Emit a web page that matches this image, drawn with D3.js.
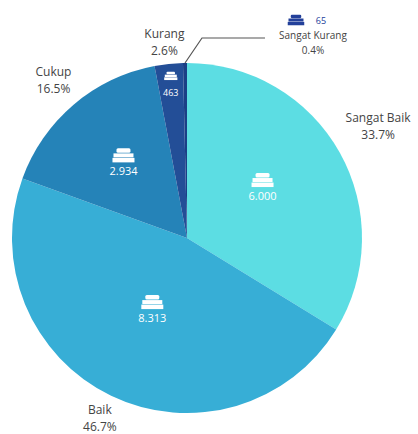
<!DOCTYPE html>
<html><head><meta charset="utf-8">
<script src="https://cdn.jsdelivr.net/npm/d3@7"></script>
<style>html,body{margin:0;background:#fff}svg{display:block}text{font-family:"Open Sans","Liberation Sans",sans-serif}</style>
</head><body><svg id="c" width="418" height="434"></svg>
<script>
const categories = ["Sangat Baik","Baik","Cukup","Kurang","Sangat Kurang"];
const counts = [6000,8313,2934,463,65];
const countLabels = ["6.000","8.313","2.934","463","65"];
const percentLabels = ["33.7%","46.7%","16.5%","2.6%","0.4%"];
const colors = ["#5CDDE3","#37AED6","#2583B8","#234E97","#1B3F86"];
// layout: radius of the outer and inner labels per slice, plus fine offsets
const outerR = [219,201,206,197,null];
const innerR = [90,80,98,155,null];
const outerOff = [[0,-6],[0,-2],[0,-2],[-2,-1],null];
const innerOff = [[-3,-6],[0,0],[0,0],[0,0],null];

const svg = d3.select("#c");
const g = svg.append("g").attr("transform","translate(187,238)");
const R = 175;
const pie = d3.pie().sort(null).startAngle(0).endAngle(2*Math.PI).value(d=>d);
const arcs = pie(counts);
const arc = d3.arc().innerRadius(0).outerRadius(R);
g.selectAll("path.s").data(arcs).join("path").attr("class","s").attr("d",arc)
  .attr("fill",(d,i)=>colors[i]);

function icon(sel,x,y,fill,k){
  const n = sel.append("g").attr("transform",`translate(${x},${y}) scale(${k})`).attr("fill",fill);
  n.append("rect").attr("x",-7).attr("y",-7).attr("width",14).attr("height",4.5).attr("rx",1.5);
  n.append("rect").attr("x",-10).attr("y",-2).attr("width",20).attr("height",4);
  n.append("rect").attr("x",-11).attr("y",2.5).attr("width",22).attr("height",4.5);
}
const pt = (d,r)=>{const a=(d.startAngle+d.endAngle)/2;return [r*Math.sin(a),-r*Math.cos(a)];};

arcs.forEach((d,i)=>{
  if(innerR[i]===null) return;
  const [ix,iy]=pt(d,innerR[i]);
  const x=ix+innerOff[i][0], y=iy+innerOff[i][1];
  const small = i===3;
  icon(g,x,y-8,"#fff",small?0.6:1);
  g.append("text").attr("x",x).attr("y",y+12).attr("text-anchor","middle")
    .attr("font-size",small?9:11).attr("fill","#fff").text(countLabels[i]);
  const [px,py]=pt(d,outerR[i]);
  const ox=px+outerOff[i][0], oy=py+outerOff[i][1];
  const t=g.append("text").attr("text-anchor","middle").attr("font-size",12).attr("fill","#444");
  t.append("tspan").attr("x",ox).attr("y",oy-3).text(categories[i]);
  t.append("tspan").attr("x",ox).attr("y",oy+14).text(percentLabels[i]);
});

// Sangat Kurang callout
const [lx,ly]=pt(arcs[4],R);
g.append("path").attr("d",d3.line()([[lx,ly],[lx+17,ly-25],[lx+80,ly-25]]))
  .attr("fill","none").attr("stroke","#555").attr("stroke-width",1.2);
const cx = lx+128, cy = ly-25;
icon(g,cx-17,cy-18,"#23409A",0.75);
g.append("text").attr("x",cx+8).attr("y",cy-14).attr("text-anchor","middle")
  .attr("font-size",9).attr("fill","#23409A").text(countLabels[4]);
const t=g.append("text").attr("text-anchor","middle").attr("font-size",10).attr("fill","#444");
t.append("tspan").attr("x",cx).attr("y",cy+1).text(categories[4]);
t.append("tspan").attr("x",cx).attr("y",cy+16).text(percentLabels[4]);
</script></body></html>
